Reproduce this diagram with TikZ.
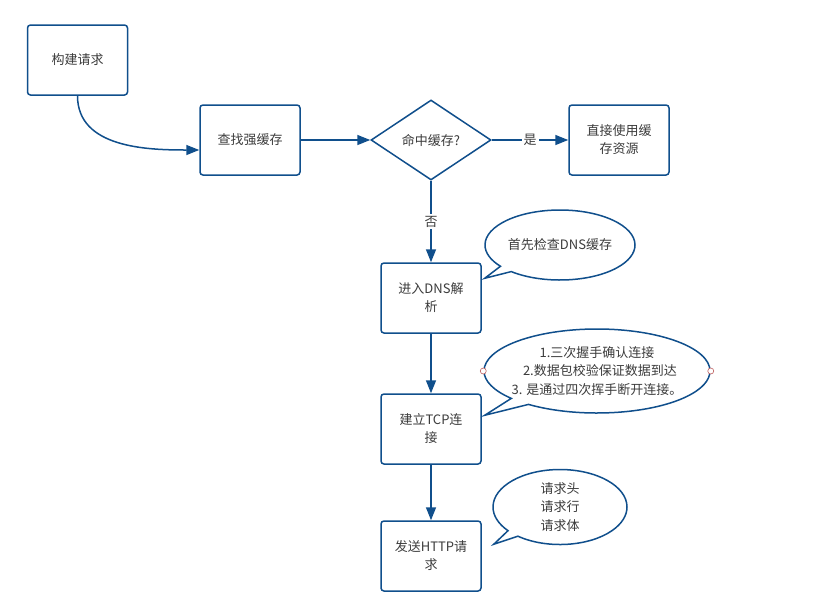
\documentclass[tikz,border=0pt]{standalone}
\usepackage{fontspec}
\newfontfamily\cjk{Noto Sans CJK SC}
\usetikzlibrary{shapes.geometric,shapes.callouts,arrows.meta}
\definecolor{flowblue}{RGB}{16,79,140}
\definecolor{txtgray}{RGB}{60,60,60}
\definecolor{dotred}{RGB}{190,95,95}
\tikzset{
  box/.style={draw=flowblue,line width=1.5pt,rounded corners=3pt,fill=white,minimum width=100pt,minimum height=70pt,inner sep=0pt,align=center,font=\cjk\fontsize{13}{18}\selectfont,text=txtgray},
  check/.style={diamond,draw=flowblue,line width=1.5pt,fill=white,minimum width=120pt,minimum height=80pt,inner sep=0pt,font=\cjk\fontsize{13}{18}\selectfont,text=txtgray},
  note/.style={ellipse callout,draw=flowblue,line width=1.5pt,fill=white,inner sep=0pt,align=center,callout pointer arc=12,font=\cjk\fontsize{13}{18.5}\selectfont,text=txtgray},
  flow/.style={draw=flowblue,line width=1.5pt,-{Triangle[length=13pt,width=10pt]}},
  lbl/.style={fill=white,font=\cjk\fontsize{13}{18}\selectfont,text=txtgray,inner sep=2pt},
  dot/.style={circle,draw=dotred,fill=white,line width=0.6pt,inner sep=0pt,minimum size=6pt}
}
\begin{document}
\begin{tikzpicture}[x=1pt,y=-1pt]
    \useasboundingbox[fill=white] (0,0) rectangle (829,606);
    \path (77.5,60) node[box] (build) {构建请求};
    \path (250,140) node[box] (strong) {查找强缓存};
    \path (431,140) node[check] (hit) {命中缓存?};
    \path (619,140) node[box] (use) {直接使用缓\\存资源};
    \path (431,298) node[box] (dns) {进入DNS解\\析};
    \path (431,429) node[box] (tcp) {建立TCP连\\接};
    \path (431,556) node[box] (http) {发送HTTP请\\求};

    \path (560,245) node[note,minimum width=150pt,minimum height=70pt,callout absolute pointer={([xshift=3pt,yshift=-16pt]dns.north east)}] (dnsnote) {首先检查DNS缓存};
    \path (597,371) node[note,inner xsep=-14pt,inner ysep=-4pt,minimum width=226pt,minimum height=84pt,callout absolute pointer={([xshift=3pt,yshift=-22pt]tcp.north east)}] (tcpnote) {1.三次握手确认连接\\ \ \ 2.数据包校验保证数据到达\\3. 是通过四次挥手断开连接。};
    \path (560,507) node[note,minimum width=134pt,minimum height=75pt,callout absolute pointer={([xshift=12pt,yshift=-24pt]http.north east)}] (httpnote) {请求头\\请求行\\请求体};
    \path (tcpnote.west) node[dot] (tcpl) {};
    \path (tcpnote.east) node[dot] (tcpr) {};

    \draw[flow] (build.south) to[out=-90,in=180] ([yshift=-10pt]strong.west);
    \draw[flow] (strong) -- (hit);
    \draw[flow] (hit) -- (use) node[lbl,midway] {是};
    \draw[flow] (hit) -- (dns) node[lbl,midway] {否};
    \draw[flow] (dns) -- (tcp);
    \draw[flow] (tcp) -- (http);
\end{tikzpicture}
\end{document}
